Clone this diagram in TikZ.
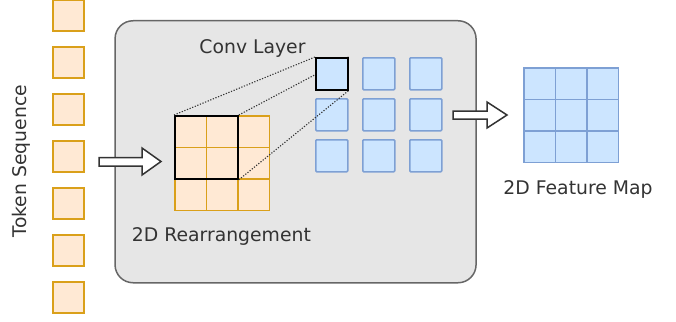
\documentclass[tikz,border=0pt]{standalone}
\usepackage{fontspec}
\setmainfont{DejaVu Sans}
\definecolor{tokfill}{HTML}{FFE9D4}
\definecolor{tokdraw}{HTML}{DAA01A}
\definecolor{bfill}{HTML}{CCE5FF}
\definecolor{bdraw}{HTML}{7EA0D4}
\definecolor{boxfill}{HTML}{E6E6E6}
\definecolor{boxdraw}{HTML}{666666}
\definecolor{txt}{HTML}{333333}
\begin{document}
\begin{tikzpicture}[x=1pt,y=-1pt,
  tok/.style={draw=tokdraw,fill=tokfill,line width=1.8pt,minimum size=31pt,inner sep=0pt,anchor=north west},
  ocell/.style={draw=tokdraw,fill=tokfill,line width=1.8pt,minimum size=31.5pt,inner sep=0pt,anchor=north west},
  bsq/.style={draw=bdraw,fill=bfill,line width=1.6pt,minimum size=32pt,inner sep=0pt,anchor=north west,rounded corners=1pt},
  fcell/.style={draw=bdraw,fill=bfill,line width=1.6pt,minimum size=31.5pt,inner sep=0pt,anchor=north west},
  lbl/.style={font=\fontsize{18.8}{22}\selectfont,text=txt,inner sep=0pt},
  blockarrow/.style={draw=txt,fill=white,line width=1.5pt,line join=miter},
  dotline/.style={draw=txt,line width=1.1pt,dash pattern=on 1.2pt off 1.6pt}
]
\useasboundingbox (0,0) rectangle (676,321);

% token sequence
\foreach \i in {0,...,6} {
  \node[tok] (t\i) at (52,-1+47*\i) {};
}
\node[lbl,rotate=90,anchor=base] (toklbl) at (26.5,161) {Token Sequence};

% gray conv box
\node[draw=boxdraw,fill=boxfill,line width=1.5pt,rounded corners=18pt,
      minimum width=361pt,minimum height=262pt,inner sep=0pt,anchor=north west] (box) at (114.3,20) {};

% arrow into box
\draw[blockarrow] (99,157.5) -- (142,157.5) -- (142,148) -- (161,161.5) -- (142,175) -- (142,166) -- (99,166) -- cycle;

% orange 2D rearrangement grid
\foreach \r in {0,1,2} {
  \foreach \c in {0,1,2} {
    \node[ocell] (o\r\c) at (174+31.5*\c,115+31.5*\r) {};
  }
}
\node[draw=black,line width=1.8pt,minimum size=63pt,inner sep=0pt,anchor=north west] (win) at (174,115) {};

% blue conv output squares
\foreach \r/\y in {0/57,1/98,2/139} {
  \foreach \c/\x in {0/315,1/362,2/409} {
    \node[bsq] (b\r\c) at (\x,\y) {};
  }
}

% dotted receptive field lines
\draw[dotline] (win.north west) -- (b00.north west);
\draw[dotline] (win.north east) -- (b00.north east);
\draw[dotline] (win.south east) -- (b00.south east);

% highlighted output square on top
\node[bsq,draw=black,line width=1.8pt,rounded corners=0pt] (hl) at (315,57) {};

\node[lbl,anchor=base] (convlbl) at (252.5,53) {Conv Layer};
\node[lbl,anchor=base] (rearlbl) at (221.4,241) {2D Rearrangement};

% arrow out of box
\draw[blockarrow] (453,111) -- (487,111) -- (487,102) -- (507,115) -- (487,128) -- (487,119) -- (453,119) -- cycle;

% feature map
\foreach \r in {0,1,2} {
  \foreach \c in {0,1,2} {
    \node[fcell] (f\r\c) at (523+31.5*\c,67+31.5*\r) {};
  }
}
\node[lbl,anchor=base] (fmlbl) at (578,194) {2D Feature Map};
\end{tikzpicture}
\end{document}
